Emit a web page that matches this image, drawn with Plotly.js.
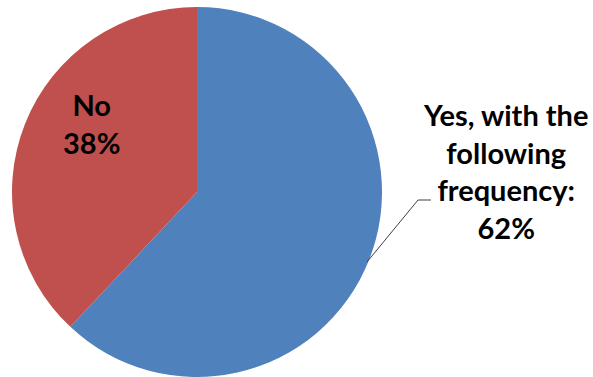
<!DOCTYPE html>
<html>
<head>
<meta charset="utf-8">
<script src="https://cdn.plot.ly/plotly-3.0.1.min.js"></script>
<style>html,body{margin:0;padding:0;background:#fff;}#chart{width:593px;height:377px;}</style>
</head>
<body>
<div id="chart"></div>
<script>
const labels = ["Yes, with the following frequency:", "No"];
const values = [62, 38];
const colors = ["#4F81BD", "#C0504D"];

const W = 593, H = 377;
const px = x => x / W;
const py = y => 1 - y / H;
const total = values.reduce((a, b) => a + b, 0);
const pct = v => Math.round(v / total * 100) + "%";

const trace = {
  type: "pie",
  labels: labels,
  values: values,
  sort: false,
  direction: "clockwise",
  rotation: 0,
  marker: { colors: colors, line: { width: 0 } },
  textinfo: "none",
  hoverinfo: "label+percent",
  showlegend: false,
  domain: { x: [px(12), px(382)], y: [py(377), py(7)] }
};

const font = { family: "Lato, 'Open Sans', sans-serif", size: 29, color: "#000" };

const layout = {
  width: W, height: H,
  margin: { l: 0, r: 0, t: 0, b: 0 },
  paper_bgcolor: "#fff",
  showlegend: false,
  annotations: [
    {
      xref: "paper", yref: "paper",
      x: px(91), y: py(124),
      xanchor: "center", yanchor: "middle",
      text: "<b>" + labels[1] + "<br>" + pct(values[1]) + "</b>",
      showarrow: false, font: font, align: "center"
    },
    {
      xref: "paper", yref: "paper",
      x: px(505.5), y: py(170.5),
      xanchor: "center", yanchor: "middle",
      text: "<b>Yes, with the<br>following<br>frequency:<br>" + pct(values[0]) + "</b>",
      showarrow: false, font: font, align: "center"
    }
  ],
  shapes: [
    {
      type: "path", xref: "paper", yref: "paper",
      path: "M " + px(367) + "," + py(262) + " L " + px(418) + "," + py(200) + " L " + px(431) + "," + py(200),
      line: { color: "#404040", width: 1 }
    }
  ]
};

Plotly.newPlot("chart", [trace], layout, { displayModeBar: false, staticPlot: true });
</script>
</body>
</html>
